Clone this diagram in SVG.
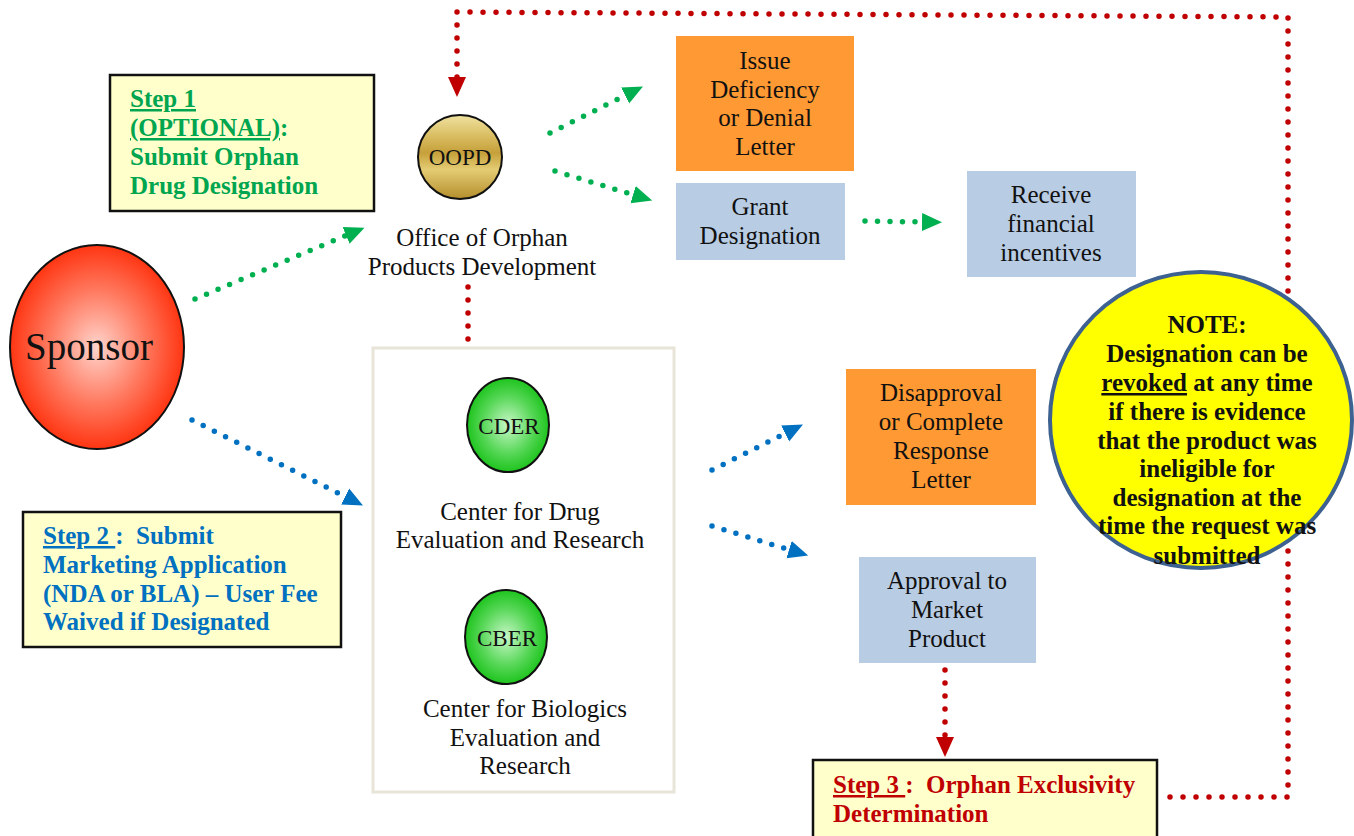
<svg xmlns="http://www.w3.org/2000/svg" width="1354" height="836" viewBox="0 0 1354 836">
<defs>
<style>
.t{font-family:"Liberation Serif","Times New Roman",serif;font-size:25px;fill:#111;text-anchor:middle}
.b{font-family:"Liberation Serif","Times New Roman",serif;font-size:25px;font-weight:bold}
.step{fill:#ffffcc;stroke:#111;stroke-width:2.5}
.dg{fill:none;stroke:#00b050;stroke-width:5.5;stroke-linecap:round;stroke-dasharray:0 12.5}
.db{fill:none;stroke:#0070c0;stroke-width:5.5;stroke-linecap:round;stroke-dasharray:0 12.5}
.dr{fill:none;stroke:#c00000;stroke-width:5.5;stroke-linecap:round;stroke-dasharray:0 13}
.u{text-decoration:underline}
</style>
<marker id="ag" markerUnits="userSpaceOnUse" markerWidth="20" markerHeight="20" refX="1" refY="10" orient="auto"><path d="M0,1 L20,10 L0,19 z" fill="#00b050"/></marker>
<marker id="ab" markerUnits="userSpaceOnUse" markerWidth="20" markerHeight="20" refX="1" refY="10" orient="auto"><path d="M0,1 L20,10 L0,19 z" fill="#0070c0"/></marker>
<marker id="ar" markerUnits="userSpaceOnUse" markerWidth="20" markerHeight="20" refX="1" refY="10" orient="auto"><path d="M0,1 L20,10 L0,19 z" fill="#c00000"/></marker>
<radialGradient id="gs" cx="0.5" cy="0.5" r="0.5"><stop offset="0" stop-color="#ffd4cc"/><stop offset="0.55" stop-color="#ff7a60"/><stop offset="1" stop-color="#ff3512"/></radialGradient>
<radialGradient id="gg" cx="0.5" cy="0.5" r="0.5"><stop offset="0" stop-color="#c8f7c8"/><stop offset="0.6" stop-color="#5ad85a"/><stop offset="1" stop-color="#1ec41e"/></radialGradient>
<linearGradient id="gold" x1="0" y1="0" x2="0" y2="1"><stop offset="0" stop-color="#f0e2a0"/><stop offset="0.25" stop-color="#d9bd62"/><stop offset="0.45" stop-color="#c6a03a"/><stop offset="0.65" stop-color="#e4cc74"/><stop offset="1" stop-color="#b48e2c"/></linearGradient>
</defs>
<rect width="1354" height="836" fill="#ffffff"/>

<g id="connectors">
<path class="dr" d="M1170,797 L1288,797 L1288,17 L457,12 L457,78" marker-end="url(#ar)"/>
<path class="dr" d="M468,287 L468,345"/>
<path class="dr" d="M945,670 L945,738" marker-end="url(#ar)"/>
<path class="dg" d="M195,299 L347,235" marker-end="url(#ag)"/>
<path class="dg" d="M550,133 L626,95" marker-end="url(#ag)"/>
<path class="dg" d="M555,171 L634,195" marker-end="url(#ag)"/>
<path class="dg" d="M865,221 L923,222" marker-end="url(#ag)"/>
<path class="db" d="M192,420 L346,497" marker-end="url(#ab)"/>
<path class="db" d="M712,470 L786,433" marker-end="url(#ab)"/>
<path class="db" d="M712,526 L790,550" marker-end="url(#ab)"/>
</g>

<g id="sponsor">
<ellipse cx="97" cy="347" rx="87" ry="102" fill="url(#gs)" stroke="#111" stroke-width="2"/>
<text class="t" x="89" y="360" style="font-size:39px">Sponsor</text>
</g>

<g id="step1">
<rect class="step" x="110" y="75" width="264" height="136"/>
<text class="b" fill="#00a550" x="130" y="107"><tspan class="u">Step 1</tspan></text>
<text class="b" fill="#00a550" x="130" y="136"><tspan class="u">(OPTIONAL)</tspan>:</text>
<text class="b" fill="#00a550" x="130" y="165">Submit Orphan</text>
<text class="b" fill="#00a550" x="130" y="194">Drug Designation</text>
</g>

<g id="oopd">
<circle cx="460" cy="157" r="42" fill="url(#gold)" stroke="#111" stroke-width="2"/>
<text class="t" x="460" y="165" style="font-size:23px">OOPD</text>
<text class="t" x="482" y="246">Office of Orphan</text>
<text class="t" x="482" y="275">Products Development</text>
</g>

<g id="issue">
<rect x="676" y="36" width="178" height="135" fill="#ff9933"/>
<text class="t" x="765" y="69">Issue</text>
<text class="t" x="765" y="98">Deficiency</text>
<text class="t" x="765" y="126">or Denial</text>
<text class="t" x="765" y="155">Letter</text>
</g>

<g id="grant">
<rect x="676" y="183" width="169" height="77" fill="#b8cce4"/>
<text class="t" x="760" y="215">Grant</text>
<text class="t" x="760" y="244">Designation</text>
</g>

<g id="receive">
<rect x="967" y="171" width="169" height="106" fill="#b8cce4"/>
<text class="t" x="1051" y="203">Receive</text>
<text class="t" x="1051" y="232">financial</text>
<text class="t" x="1051" y="261">incentives</text>
</g>

<g id="centers">
<rect x="373" y="348" width="301" height="444" fill="#ffffff" stroke="#e8e4d8" stroke-width="3"/>
</g>

<g id="cder">
<ellipse cx="508" cy="425" rx="41" ry="47" fill="url(#gg)" stroke="#111" stroke-width="2"/>
<text class="t" x="509" y="434" style="font-size:23px">CDER</text>
<text class="t" x="520" y="520">Center for Drug</text>
<text class="t" x="520" y="548">Evaluation and Research</text>
</g>

<g id="cber">
<ellipse cx="506" cy="637" rx="41" ry="47" fill="url(#gg)" stroke="#111" stroke-width="2"/>
<text class="t" x="507" y="646" style="font-size:23px">CBER</text>
<text class="t" x="525" y="717">Center for Biologics</text>
<text class="t" x="525" y="746">Evaluation and</text>
<text class="t" x="525" y="774">Research</text>
</g>

<g id="step2">
<rect class="step" x="23" y="512" width="318" height="135"/>
<text class="b" fill="#0070c0" x="43" y="544" style="white-space:pre"><tspan class="u">Step 2 </tspan>:  Submit</text>
<text class="b" fill="#0070c0" x="43" y="573">Marketing Application</text>
<text class="b" fill="#0070c0" x="43" y="602">(NDA or BLA) – User Fee</text>
<text class="b" fill="#0070c0" x="43" y="630">Waived if Designated</text>
</g>

<g id="disapproval">
<rect x="846" y="369" width="190" height="136" fill="#ff9933"/>
<text class="t" x="941" y="401">Disapproval</text>
<text class="t" x="941" y="430">or Complete</text>
<text class="t" x="941" y="459">Response</text>
<text class="t" x="941" y="488">Letter</text>
</g>

<g id="approval">
<rect x="859" y="557" width="177" height="106" fill="#b8cce4"/>
<text class="t" x="947" y="589">Approval to</text>
<text class="t" x="947" y="618">Market</text>
<text class="t" x="947" y="647">Product</text>
</g>

<g id="step3">
<rect class="step" x="813" y="760" width="344" height="80"/>
<text class="b" fill="#c00000" x="833" y="793" style="white-space:pre"><tspan class="u">Step 3 </tspan>:  Orphan Exclusivity</text>
<text class="b" fill="#c00000" x="833" y="822">Determination</text>
</g>

<g id="note">
<ellipse cx="1201" cy="420" rx="151" ry="148" fill="#ffff00" stroke="#3d6190" stroke-width="4"/>
<g class="b" fill="#111" text-anchor="middle">
<text x="1207" y="333">NOTE:</text>
<text x="1207" y="362">Designation can be</text>
<text x="1207" y="391"><tspan class="u">revoked</tspan> at any time</text>
<text x="1207" y="420">if there is evidence</text>
<text x="1207" y="449">that the product was</text>
<text x="1207" y="477">ineligible for</text>
<text x="1207" y="506">designation at the</text>
<text x="1207" y="534">time the request was</text>
<text x="1207" y="564">submitted</text>
</g>
</g>
</svg>
